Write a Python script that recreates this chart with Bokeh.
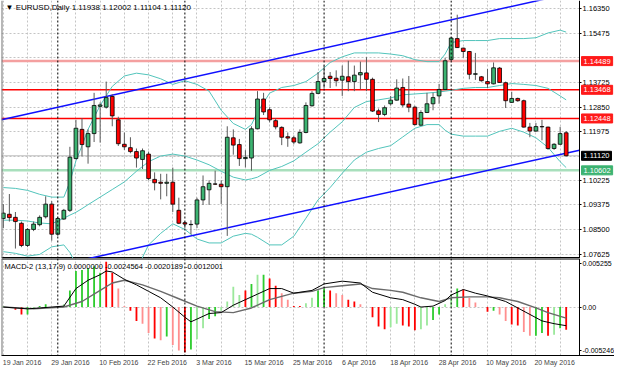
import pandas as pd
from bokeh.plotting import figure
from bokeh.layouts import column
from bokeh.models import (Range1d, FixedTicker, Span, Label, ColumnDataSource,
                          PrintfTickFormatter, BoxAnnotation)
from bokeh.embed import file_html
from bokeh.resources import INLINE

# ---------------- data ----------------
dates = pd.bdate_range("2016-01-19", "2016-05-27")
date_text = [f"{d.day} {d.strftime('%b')} {d.year}" for d in dates]

opens = [1.0889, 1.0904, 1.0893, 1.0872, 1.0793, 1.0850, 1.0867, 1.0895, 1.0940, 1.0833,
         1.0887, 1.0918, 1.1102, 1.1206, 1.1144, 1.1191, 1.1288, 1.1285, 1.1323, 1.1240,
         1.1153, 1.1141, 1.1127, 1.1099, 1.1118, 1.1028, 1.1018, 1.1014, 1.1018, 1.0918,
         1.0874, 1.0867, 1.0869, 1.0955, 1.0991, 1.1012, 1.1011, 1.1002, 1.1176, 1.1152,
         1.1102, 1.1104, 1.1208, 1.1314, 1.1276, 1.1237, 1.1213, 1.1180, 1.1176, 1.1158,
         1.1195, 1.1290, 1.1334, 1.1376, 1.1395, 1.1388, 1.1381, 1.1393, 1.1376, 1.1400,
         1.1407, 1.1384, 1.1272, 1.1259, 1.1297, 1.1310, 1.1355, 1.1296, 1.1285, 1.1221,
         1.1266, 1.1297, 1.1325, 1.1348, 1.1455, 1.1529, 1.1495, 1.1483, 1.1402, 1.1393,
         1.1376, 1.1368, 1.1424, 1.1372, 1.1302, 1.1316, 1.1308, 1.1214, 1.1200, 1.1216,
         1.1214, 1.1138, 1.1153, 1.11938]
highs = [1.0940, 1.0976, 1.0912, 1.0878, 1.0855, 1.0878, 1.0900, 1.0968, 1.0951, 1.0895,
         1.0923, 1.1144, 1.1240, 1.1246, 1.1206, 1.1336, 1.1302, 1.1376, 1.1331, 1.1251,
         1.1195, 1.1178, 1.1138, 1.1138, 1.1127, 1.1053, 1.1048, 1.1048, 1.1070, 1.0963,
         1.0878, 1.0883, 1.0963, 1.1042, 1.1025, 1.1059, 1.1025, 1.1217, 1.1206, 1.1172,
         1.1132, 1.1217, 1.1342, 1.1336, 1.1285, 1.1246, 1.1217, 1.1195, 1.1184, 1.1206,
         1.1302, 1.1342, 1.1410, 1.1433, 1.1410, 1.1416, 1.1433, 1.1450, 1.1433, 1.1447,
         1.1463, 1.1390, 1.1280, 1.1291, 1.1325, 1.1384, 1.1387, 1.1396, 1.1290, 1.1274,
         1.1336, 1.1336, 1.1368, 1.1461, 1.1534, 1.1614, 1.1497, 1.1485, 1.1478, 1.1396,
         1.1421, 1.1444, 1.1428, 1.1376, 1.1340, 1.1319, 1.1312, 1.1229, 1.1229, 1.1240,
         1.1216, 1.1157, 1.1215, 1.12002]
lows = [1.0855, 1.0878, 1.0782, 1.0787, 1.0787, 1.0844, 1.0861, 1.0889, 1.0810, 1.0827,
        1.0884, 1.0912, 1.1099, 1.1110, 1.1084, 1.1161, 1.1159, 1.1280, 1.1217, 1.1147,
        1.1133, 1.1121, 1.1070, 1.1065, 1.1025, 1.0989, 1.0957, 1.0968, 1.0912, 1.0869,
        1.0855, 1.0833, 1.0855, 1.0937, 1.0937, 1.1008, 1.0940, 1.0827, 1.1116, 1.1076,
        1.1070, 1.1059, 1.1206, 1.1257, 1.1231, 1.1206, 1.1150, 1.1144, 1.1153, 1.1155,
        1.1192, 1.1287, 1.1331, 1.1353, 1.1353, 1.1359, 1.1325, 1.1342, 1.1342, 1.1348,
        1.1342, 1.1268, 1.1232, 1.1253, 1.1291, 1.1308, 1.1285, 1.1267, 1.1220, 1.1218,
        1.1264, 1.1274, 1.1297, 1.1346, 1.1449, 1.1496, 1.1461, 1.1384, 1.1382, 1.1376,
        1.1353, 1.1366, 1.1371, 1.1282, 1.1300, 1.1304, 1.1212, 1.1178, 1.1197, 1.1167,
        1.1133, 1.1133, 1.1151, 1.11104]
closes = [1.0908, 1.0892, 1.0878, 1.0793, 1.0850, 1.0869, 1.0893, 1.0940, 1.0833, 1.0889,
          1.0918, 1.1107, 1.1210, 1.1152, 1.1191, 1.1291, 1.1293, 1.1319, 1.1254, 1.1155,
          1.1144, 1.1127, 1.1104, 1.1130, 1.1031, 1.1016, 1.1014, 1.1018, 1.0940, 1.0872,
          1.0869, 1.0868, 1.0955, 1.1002, 1.1014, 1.1011, 1.1002, 1.1178, 1.1150, 1.1102,
          1.1106, 1.1208, 1.1314, 1.1268, 1.1240, 1.1215, 1.1178, 1.1175, 1.1161, 1.1195,
          1.1291, 1.1334, 1.1376, 1.1387, 1.1387, 1.1379, 1.1395, 1.1376, 1.1399, 1.1408,
          1.1384, 1.1271, 1.1259, 1.1283, 1.1310, 1.1353, 1.1293, 1.1285, 1.1223, 1.1266,
          1.1297, 1.1319, 1.1348, 1.1450, 1.1531, 1.1497, 1.1483, 1.1402, 1.1404, 1.1379,
          1.1368, 1.1425, 1.1373, 1.1308, 1.1316, 1.1308, 1.1214, 1.1200, 1.1216, 1.1215,
          1.1138, 1.1153, 1.1191, 1.11120]

# Bollinger bands (20)
bb_bars = [0, 2, 4, 6, 8, 10, 11, 12, 13, 14, 16, 18, 20, 22, 24, 26, 28, 30, 32, 34,
           36, 38, 40, 41, 42, 44, 46, 48, 50, 52, 54, 56, 58, 60, 62, 64, 66, 68, 70, 72,
           73, 74, 76, 78, 80, 82, 84, 86, 88, 90, 92, 93]
bb_upper = [1.0999, 1.0996, 1.0989, 1.0975, 1.0965, 1.0965, 1.1019, 1.1094, 1.1148, 1.1206,
            1.1291, 1.1359, 1.1396, 1.1406, 1.1400, 1.1386, 1.1366, 1.1379, 1.1366, 1.1342,
            1.1274, 1.1227, 1.1206, 1.1223, 1.1267, 1.1335, 1.1355, 1.1362, 1.1376, 1.1406,
            1.1444, 1.1464, 1.1478, 1.1478, 1.1478, 1.1474, 1.1468, 1.1454, 1.1447, 1.1447,
            1.1474, 1.1515, 1.1522, 1.1522, 1.1522, 1.1529, 1.1529, 1.1529, 1.1532, 1.1549,
            1.1559, 1.1552]
bb_middle = [1.0883, 1.0883, 1.0880, 1.0873, 1.0870, 1.0890, 1.0901, 1.0911, 1.0924, 1.0938,
             1.0965, 1.0992, 1.1019, 1.1057, 1.1091, 1.1111, 1.1118, 1.1111, 1.1097, 1.1080,
             1.1057, 1.1036, 1.1026, 1.1030, 1.1036, 1.1060, 1.1074, 1.1094, 1.1125, 1.1155,
             1.1196, 1.1233, 1.1284, 1.1305, 1.1311, 1.1318, 1.1329, 1.1332, 1.1335, 1.1339,
             1.1342, 1.1345, 1.1352, 1.1355, 1.1355, 1.1362, 1.1369, 1.1366, 1.1362, 1.1352,
             1.1325, 1.1311]
bb_lower = [1.0771, 1.0765, 1.0755, 1.0761, 1.0788, 1.0795, 1.0768, 1.0727, 1.0697, 1.0670,
            1.0639, 1.0625, 1.0646, 1.0707, 1.0795, 1.0836, 1.0870, 1.0850, 1.0816, 1.0802,
            1.0802, 1.0826, 1.0836, 1.0833, 1.0822, 1.0795, 1.0795, 1.0826, 1.0890, 1.0955,
            1.0999, 1.1050, 1.1097, 1.1125, 1.1138, 1.1148, 1.1179, 1.1210, 1.1223, 1.1223,
            1.1203, 1.1189, 1.1182, 1.1182, 1.1182, 1.1199, 1.1210, 1.1196, 1.1176, 1.1142,
            1.1091, 1.1070]

# MACD-2 (13,17,9)
macd_hist = [0.0001, -0.0001, -0.0003, -0.0008, -0.0008, -0.0002, 0.0001, 0.0003, 0.0000, 0.0000,
             0.0003, 0.0018, 0.0039, 0.0040, 0.0042, 0.0044, 0.0037, 0.0049, 0.0037, 0.0020,
             0.0001, -0.0004, -0.0015, -0.0018, -0.0028, -0.0034, -0.0036, -0.0032, -0.0041, -0.0047,
             -0.0049, -0.0046, -0.0035, -0.0023, -0.0013, -0.0010, -0.0004, 0.0006, 0.0022, 0.0013,
             0.0018, 0.0025, 0.0035, 0.0035, 0.0031, 0.0023, 0.0015, 0.0008, 0.0001, 0.0001,
             0.0004, 0.0010, 0.0018, 0.0020, 0.0018, 0.0015, 0.0013, 0.0008, 0.0006, 0.0003,
             0.0000, -0.0011, -0.0021, -0.0024, -0.0022, -0.0018, -0.0020, -0.0021, -0.0025, -0.0024,
             -0.0020, -0.0014, -0.0008, 0.0003, 0.0014, 0.0020, 0.0019, 0.0010, 0.0005, 0.0000,
             -0.0005, -0.0004, -0.0008, -0.0015, -0.0019, -0.0020, -0.0027, -0.0031, -0.0031, -0.0028,
             -0.0031, -0.0030, -0.0023, -0.00246]
macd_kind = list("grRRGgGGRG" "gGGGGGGRRr" "rRRrrRrGrr" "RGggGGgggg" "RGgGRRrrRR"
                 "ggGGRrrRRr" "RRRRggRRRg" "gGGggGRrrR" "RGrrRRrrGG" "RgGR")
macd_bars = [0, 4, 8, 10, 12, 14, 16, 17, 18, 20, 22, 24, 26, 28, 30, 31, 32, 34, 36, 38,
             40, 42, 44, 46, 48, 51, 53, 56, 59, 61, 64, 66, 68, 69, 71, 73, 74, 76, 78, 80,
             83, 85, 87, 89, 91, 93]
macd_line = [0.0000, -0.0002, 0.0000, 0.0001, 0.0020, 0.0029, 0.0035, 0.0039, 0.0038, 0.0030,
             0.0024, 0.0017, 0.0010, 0.0000, -0.0011, -0.0016, -0.0013, -0.0007, -0.0006, 0.0002,
             0.0008, 0.0014, 0.0020, 0.0020, 0.0015, 0.0018, 0.0025, 0.0028, 0.0026, 0.0016,
             0.0010, 0.0008, 0.0003, 0.0000, 0.0001, 0.0007, 0.0013, 0.0019, 0.0015, 0.0012,
             0.0006, -0.0001, -0.0008, -0.0015, -0.0018, -0.0020189]
signal_bars = [0, 5, 10, 13, 16, 18, 20, 23, 26, 29, 32, 35, 38, 41, 44, 48, 51, 53, 56, 59,
               61, 64, 66, 69, 72, 74, 77, 80, 82, 85, 88, 90, 93]
signal_line = [0.0000, -0.0002, 0.0000, 0.0006, 0.0018, 0.0026, 0.0029, 0.0024, 0.0017, 0.0009,
               0.0001, -0.0005, -0.0006, -0.0001, 0.0008, 0.0015, 0.0017, 0.0021, 0.0023, 0.0025,
               0.0020, 0.0018, 0.0016, 0.0010, 0.0006, 0.0010, 0.0011, 0.0011, 0.0010, 0.0006,
               -0.0001, -0.0006, -0.0012001]

resistance_levels = [1.14489, 1.13468, 1.12448]
support_level = 1.10602
trend_upper_x = [-0.3, 95.2]
trend_upper_y = [1.1240, 1.1697]
trend_lower_x = [10.0, 95.2]
trend_lower_y = [1.0727, 1.1132]
price_ticks = [1.07625, 1.08500, 1.09375, 1.10225, 1.11100, 1.11975, 1.12850, 1.13725,
               1.14600, 1.15475, 1.16350]
price_ticks_hidden = [1.11100, 1.14600]
macd_axis_labels = ["0.005255", "0.00", "-0.005246"]
macd_limits = [-0.005246, 0.005255]
title_text = "\u25bc EURUSD,Daily  1.11938 1.12002 1.11104 1.11120"
macd_text = "MACD-2 (13,17,9) 0.0000000 -0.0024564 -0.0020189 -0.0012001"

# ---------------- styling / geometry ----------------
FONT = "Liberation Sans"
FS = "7.5px"
GRID = "#c4c4c4"
BAND = "#52c4bb"
n = len(closes)
xs = list(range(n))
X0 = -0.3
AXIS_X = 95.2                      # price axis position (right end of the chart area)
CHART_W = 578                      # pixels from left edge to the price axis
FULL_W = 613
PXB = CHART_W / (AXIS_X - X0)      # pixels per bar
XR = Range1d(X0, X0 + FULL_W / PXB)
Y_LO, Y_HI = 1.07466, 1.16645

month_starts = [i for i in range(1, n) if dates[i].month != dates[i - 1].month]
label_bars = list(range(0, n, 8))
grid_bars = [b for b in range(0, n + 4, 4) if b < AXIS_X]


def base(fig, font_size):
    fig.outline_line_color = None
    fig.background_fill_color = "white"
    fig.border_fill_color = "white"
    fig.xgrid.ticker = FixedTicker(ticks=grid_bars)
    for g in (fig.xgrid, fig.ygrid):
        g.grid_line_color = GRID
        g.grid_line_dash = "2 2"
        g.grid_line_width = 1
    # blank the price-scale strip right of the axis (covers grid lines)
    fig.add_layout(BoxAnnotation(left=AXIS_X, fill_color="white", fill_alpha=1.0,
                                 line_color=None, level="underlay"))
    for ax in fig.yaxis:
        ax.fixed_location = AXIS_X
        ax.axis_line_color = "black"
        ax.axis_line_width = 1
        ax.major_tick_line_color = "black"
        ax.major_tick_out = 2
        ax.major_tick_in = 0
        ax.minor_tick_line_color = None
        ax.major_label_standoff = 1
        ax.major_label_text_font = FONT
        ax.major_label_text_font_size = font_size
        ax.major_label_text_color = "black"
    for m in month_starts:
        fig.add_layout(Span(location=m, dimension="height", line_color="black",
                            line_dash="2 2", line_width=1))
    # left border of the chart window
    fig.add_layout(Span(location=X0, dimension="height", line_color="#707070", line_width=2))
    return fig


# ---------------- main price pane ----------------
p = figure(frame_width=FULL_W, frame_height=258, x_range=XR, y_range=Range1d(Y_LO, Y_HI),
           output_backend="svg", toolbar_location=None, x_axis_location=None,
           y_axis_location="right", min_border_left=1, min_border_right=0,
           min_border_top=0, min_border_bottom=0)
base(p, FS)
visible_ticks = [t for t in price_ticks if t not in price_ticks_hidden]
p.yaxis.ticker = FixedTicker(ticks=visible_ticks)
p.yaxis.formatter = PrintfTickFormatter(format="%.5f")
p.ygrid.ticker = FixedTicker(ticks=price_ticks)

# pane separator (bottom edge of the price pane)
p.segment(x0=[X0], y0=[Y_LO], x1=[AXIS_X], y1=[Y_LO], line_color="black", line_width=3)

# horizontal levels, ending at the price axis
lv_colors = ["#f4a0a0", "#ff0000", "#ff0000"]
lv_widths = [2.5, 1.5, 1.5]
p.segment(x0=[X0] * 3, x1=[AXIS_X] * 3, y0=resistance_levels, y1=resistance_levels,
          line_color=lv_colors, line_width=lv_widths)
p.segment(x0=[X0], x1=[AXIS_X], y0=[support_level], y1=[support_level],
          line_color="#a8dfbc", line_width=2.5)
p.segment(x0=[X0], x1=[AXIS_X], y0=[closes[-1]], y1=[closes[-1]],
          line_color="#bdbdbd", line_width=1)

# Bollinger bands
for band in (bb_upper, bb_middle, bb_lower):
    p.line(bb_bars, band, line_color=BAND, line_width=1)

# trend channel
p.line(trend_upper_x, trend_upper_y, line_color="#1010ff", line_width=1.5)
p.line(trend_lower_x, trend_lower_y, line_color="#1010ff", line_width=1.5)

# candles
up = [c >= o for o, c in zip(opens, closes)]
src = ColumnDataSource(dict(
    x=xs, high=highs, low=lows,
    top=[max(o, c) for o, c in zip(opens, closes)],
    bottom=[min(o, c) for o, c in zip(opens, closes)],
    color=["#3cb371" if u else "#ff0000" for u in up],
))
p.segment(x0="x", y0="low", x1="x", y1="high", source=src, line_color="#5a5a5a", line_width=1)
p.vbar(x="x", width=0.62, top="top", bottom="bottom", fill_color="color",
       line_color="black", line_width=0.8, source=src)


def price_box(fig, val, bg):
    fig.add_layout(Label(x=AXIS_X, y=val, x_units="data", y_units="data",
                         text=f"{val:.5f}", text_font=FONT, text_font_size=FS,
                         text_color="white", text_align="left", text_baseline="middle",
                         x_offset=2, background_fill_color=bg, background_fill_alpha=1.0,
                         border_line_color=bg, padding=2))


for lv in resistance_levels:
    price_box(p, lv, "#ff1a1a")
price_box(p, closes[-1], "#000000")
price_box(p, support_level, "#3cb371")

p.add_layout(Label(x=X0, y=Y_HI, x_units="data", y_units="data", text=title_text,
                   text_font=FONT, text_font_size="8px", text_color="black",
                   text_align="left", text_baseline="top", x_offset=4, y_offset=-2))

# ---------------- MACD pane ----------------
q = figure(frame_width=FULL_W, frame_height=97, x_range=XR,
           y_range=Range1d(macd_limits[0], macd_limits[1]),
           output_backend="svg", toolbar_location=None, x_axis_location="below",
           y_axis_location="right", min_border_left=1, min_border_right=0,
           min_border_top=0, min_border_bottom=17)
base(q, "7px")
top_pos = macd_limits[1] * 0.9
bot_pos = macd_limits[0] * 0.9
q.yaxis.ticker = FixedTicker(ticks=[bot_pos, 0.0, top_pos])
q.yaxis.major_label_overrides = {top_pos: macd_axis_labels[0], 0.0: macd_axis_labels[1],
                                 bot_pos: macd_axis_labels[2]}
q.ygrid.ticker = FixedTicker(ticks=[0.0])
q.segment(x0=[X0], y0=[macd_limits[1]], x1=[AXIS_X], y1=[macd_limits[1]],
          line_color="black", line_width=2)

# date labels start at their bar (labels are centred on ticks, so shift ticks by half a label)
xa = q.xaxis[0]
label_pos = [b + (len(date_text[b]) * 3.4 / 2) / PXB for b in label_bars]
xa.ticker = FixedTicker(ticks=label_pos)
xa.major_label_overrides = {pos: date_text[b] for pos, b in zip(label_pos, label_bars)}
xa.major_label_text_font = FONT
xa.major_label_text_font_size = "7px"
xa.major_label_standoff = 3
xa.major_tick_out = 0
xa.major_tick_in = 0
xa.minor_tick_line_color = None
xa.axis_line_color = "black"

palette = {"G": "#2ecc2e", "g": "#9be89b", "R": "#ff0000", "r": "#ff8f8f"}
hsrc = ColumnDataSource(dict(x=xs, top=macd_hist, color=[palette[k] for k in macd_kind]))
q.vbar(x="x", width=0.3, top="top", bottom=0, fill_color="color", line_color=None, source=hsrc)
q.line(signal_bars, signal_line, line_color="#6a6a6a", line_width=1.4)
q.line(macd_bars, macd_line, line_color="black", line_width=1)

q.add_layout(Label(x=X0, y=macd_limits[1], x_units="data", y_units="data", text=macd_text,
                   text_font=FONT, text_font_size="7.5px", text_color="black",
                   text_align="left", text_baseline="top", x_offset=3, y_offset=-3))

layout = column(p, q, spacing=0)
open("out.html", "w").write(file_html(layout, INLINE))
